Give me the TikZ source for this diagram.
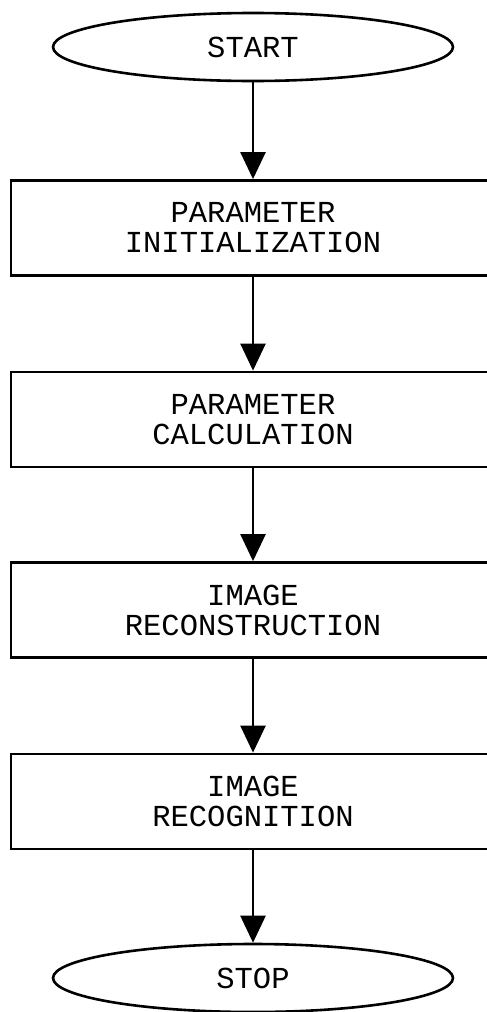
\documentclass[tikz,border=0pt]{standalone}
\usepackage{fontspec}
\newfontfamily\cour{Liberation Mono}
\usetikzlibrary{shapes.geometric,arrows.meta}
\begin{document}
\begin{tikzpicture}[x=1pt,y=-1pt,
  term/.style={ellipse,draw,line width=2.6pt,minimum width=400pt,minimum height=68pt,inner sep=0pt,
    font=\cour\fontsize{30.5}{30}\selectfont},
  proc/.style={rectangle,draw,line width=2.8pt,minimum width=484pt,minimum height=95pt,inner sep=0pt,
    align=center,font=\cour\fontsize{30.5}{30}\selectfont},
  flow/.style={line width=2.4pt,-{Triangle[width=25pt,length=27pt]}}]
\useasboundingbox (0,0) rectangle (487,1012);
\node[term] (start) at (253,47) {START};
\node[proc] (init) at (253,228) {PARAMETER\\INITIALIZATION};
\node[proc] (calc) at (253,419.5) {PARAMETER\\CALCULATION};
\node[proc] (recon) at (253,610) {IMAGE\\RECONSTRUCTION};
\node[proc] (recog) at (253,801.5) {IMAGE\\RECOGNITION};
\node[term] (stop) at (253,978) {STOP};
\draw[flow] (start) -- (init);
\draw[flow] (init) -- (calc);
\draw[flow] (calc) -- (recon);
\draw[flow] (recon) -- (recog);
\draw[flow] (recog) -- (stop);
\end{tikzpicture}
\end{document}
